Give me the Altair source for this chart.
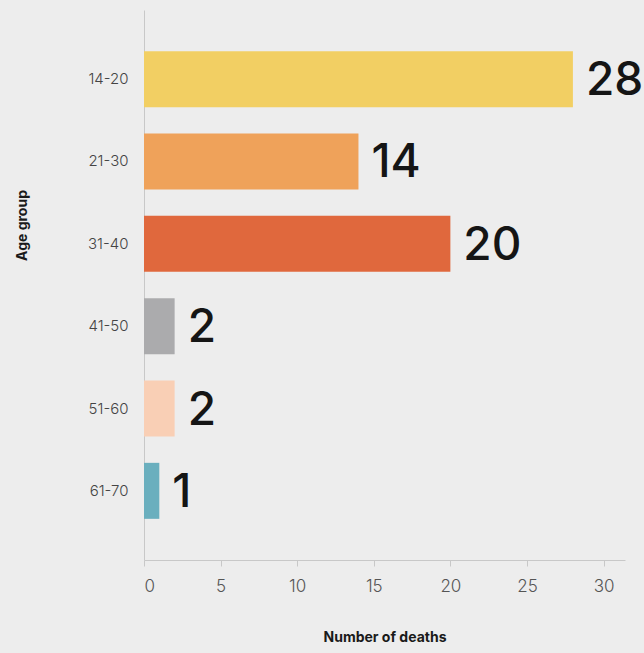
import altair as alt
import pandas as pd

age_groups = ["14-20", "21-30", "31-40", "41-50", "51-60", "61-70"]
deaths = [28, 14, 20, 2, 2, 1]
colors = ["#F2CF63", "#EFA25A", "#E0683D", "#ABABAD", "#F9CFB5", "#6AAFBE"]
x_ticks = [0, 5, 10, 15, 20, 25, 30]

df = pd.DataFrame({"age": age_groups, "deaths": deaths})

x = alt.X(
    "deaths:Q",
    scale=alt.Scale(domain=[0, 31.4], nice=False),
    axis=alt.Axis(
        values=x_ticks,
        title="Number of deaths",
        grid=False,
        domainColor="#c8c8c8",
        tickColor="#c8c8c8",
        tickSize=6,
        labelFont="Inter",
        labelFontSize=17,
        labelFontWeight=300,
        labelColor="#555555",
        labelPadding=12,
        titleFont="Inter",
        titleFontSize=14,
        titleFontWeight="bold",
        titleColor="#1a1a1a",
        titlePadding=36,
    ),
)
y = alt.Y(
    "age:N",
    sort=age_groups,
    scale=alt.Scale(paddingInner=0.32, paddingOuter=0.5),
    axis=alt.Axis(
        title="Age group",
        ticks=False,
        domainColor="#c8c8c8",
        labelFont="Inter",
        labelFontSize=15,
        labelFontWeight=300,
        labelColor="#444444",
        labelPadding=16,
        titleFont="Inter",
        titleFontSize=14,
        titleFontWeight="bold",
        titleColor="#1a1a1a",
        titleX=-122,
        titleY=215,
        titleAngle=-90,
        titleBaseline="middle",
        titleAlign="center",
    ),
)

bars = alt.Chart(df).mark_bar().encode(
    x=x,
    y=y,
    color=alt.Color("age:N", scale=alt.Scale(domain=age_groups, range=colors), legend=None),
)
labels = alt.Chart(df).mark_text(
    align="left", baseline="middle", dx=13, dy=2,
    font="Inter", fontSize=46, fontWeight=500, color="#151515",
).encode(x="deaths:Q", y=alt.Y("age:N", sort=age_groups), text="deaths:Q")

chart = (
    (bars + labels)
    .properties(
        width=481,
        height=550,
        background="#ededed",
        autosize=alt.AutoSizeParams(type="none"),
        padding={"left": 144, "top": 10, "right": 19, "bottom": 93},
    )
    .configure_view(stroke=None)
)

chart.save("out.html", embed_options={"renderer": "svg", "actions": False})
